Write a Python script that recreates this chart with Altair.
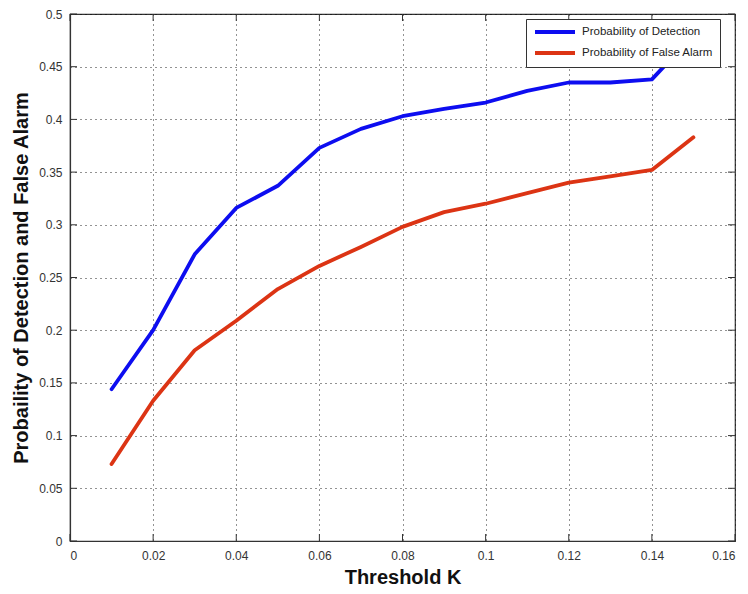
import altair as alt
import pandas as pd

thresholds = [0.01, 0.02, 0.03, 0.04, 0.05, 0.06, 0.07, 0.08, 0.09, 0.10, 0.11, 0.12, 0.13, 0.14, 0.15]
p_detection = [0.144, 0.200, 0.272, 0.316, 0.337, 0.373, 0.391, 0.403, 0.410, 0.416, 0.427, 0.435, 0.435, 0.438, 0.480]
p_false_alarm = [0.073, 0.133, 0.181, 0.209, 0.239, 0.261, 0.279, 0.298, 0.312, 0.320, 0.330, 0.340, 0.346, 0.352, 0.383]
series_names = ["Probability of Detection", "Probability of False Alarm"]
series_colors = ["#0d0df0", "#dc3414"]
x_ticks = [0, 0.02, 0.04, 0.06, 0.08, 0.10, 0.12, 0.14, 0.16]
y_ticks = [0, 0.05, 0.10, 0.15, 0.20, 0.25, 0.30, 0.35, 0.40, 0.45, 0.50]

W, H = 665, 527
TL = 7

rows = []
for t, d, f in zip(thresholds, p_detection, p_false_alarm):
    rows.append({"threshold": t, "prob": d, "series": series_names[0]})
    rows.append({"threshold": t, "prob": f, "series": series_names[1]})
df = pd.DataFrame(rows)

xscale = alt.Scale(domain=[0, 0.16], nice=False, zero=False)
yscale = alt.Scale(domain=[0, 0.5], nice=False, zero=False)
x_axis = alt.Axis(values=x_ticks, format=".2~f", title="Threshold K", grid=True,
                  tickSize=0, labelPadding=9, titlePadding=6)
y_axis = alt.Axis(values=y_ticks, format=".2~f",
                  title="Probaility of Detection and False Alarm", grid=True,
                  tickSize=0, labelPadding=8, titlePadding=7)

lines = alt.Chart(df).mark_line(strokeWidth=3.8, strokeJoin="round", strokeCap="round").encode(
    x=alt.X("threshold:Q", scale=xscale, axis=x_axis),
    y=alt.Y("prob:Q", scale=yscale, axis=y_axis),
    color=alt.Color("series:N", scale=alt.Scale(domain=series_names, range=series_colors),
                    legend=alt.Legend(title=None, orient="none", legendX=456, legendY=5,
                                      direction="vertical",
                                      strokeColor="#333", fillColor="white", padding=6,
                                      symbolType="M-4,0H4", symbolSize=100,
                                      symbolStrokeWidth=4, symbolOffset=16,
                                      labelOffset=20, labelFontSize=11.5,
                                      labelFont="Liberation Sans", labelColor="#222",
                                      rowPadding=5)),
)

xt = pd.DataFrame({"threshold": x_ticks})
yt = pd.DataFrame({"prob": y_ticks})
tick_color = "#333"
bottom_ticks = alt.Chart(xt).mark_rule(color=tick_color).encode(
    x=alt.X("threshold:Q", scale=xscale, axis=x_axis), y=alt.value(H), y2=alt.value(H - TL))
top_ticks = alt.Chart(xt).mark_rule(color=tick_color).encode(
    x=alt.X("threshold:Q", scale=xscale, axis=x_axis), y=alt.value(0), y2=alt.value(TL))
left_ticks = alt.Chart(yt).mark_rule(color=tick_color).encode(
    y=alt.Y("prob:Q", scale=yscale, axis=y_axis), x=alt.value(0), x2=alt.value(TL))
right_ticks = alt.Chart(yt).mark_rule(color=tick_color).encode(
    y=alt.Y("prob:Q", scale=yscale, axis=y_axis), x=alt.value(W), x2=alt.value(W - TL))

chart = alt.layer(lines, bottom_ticks, top_ticks, left_ticks, right_ticks).properties(
    width=W, height=H,
    autosize=alt.AutoSizeParams(type="none"),
    padding={"left": 62, "top": 6, "right": 5, "bottom": 45},
).configure_view(
    stroke="#333", strokeWidth=1.2
).configure_axis(
    labelFont="Liberation Sans", labelFontSize=12, labelColor="#333",
    titleFont="Liberation Sans", titleFontSize=20, titleFontWeight="bold", titleColor="#111",
    domainColor="#333", domainWidth=1.2,
    gridColor="#000", gridDash=[1, 4], gridOpacity=0.85, gridWidth=1,
)

chart.save("out.html", embed_options={"renderer": "svg", "actions": False})
